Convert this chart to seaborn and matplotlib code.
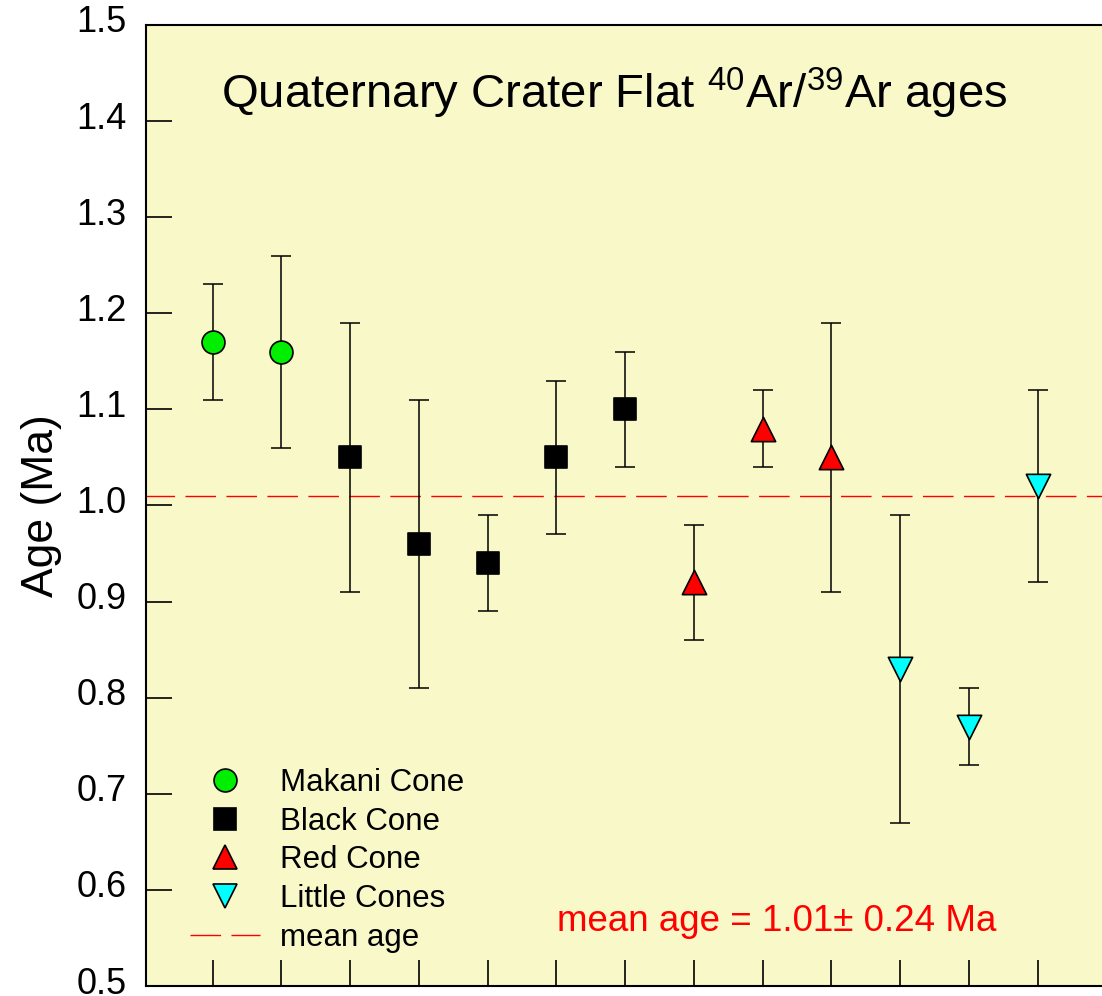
import matplotlib
matplotlib.use("Agg")
import matplotlib.pyplot as plt
import matplotlib.transforms as mtransforms
import seaborn as sns
import pandas as pd
import numpy as np

# Data
makani_x = [1, 2]
makani_age = [1.17, 1.16]
makani_err = [0.06, 0.10]

black_x = [3, 4, 5, 6, 7]
black_age = [1.05, 0.96, 0.94, 1.05, 1.10]
black_err = [0.14, 0.15, 0.05, 0.08, 0.06]

red_x = [8, 9, 10]
red_age = [0.92, 1.08, 1.05]
red_err = [0.06, 0.04, 0.14]

little_x = [11, 12, 13]
little_age = [0.83, 0.77, 1.02]
little_err = [0.16, 0.04, 0.10]

mean_age = 1.01
mean_err = 0.24
y_ticks = [0.5, 0.6, 0.7, 0.8, 0.9, 1.0, 1.1, 1.2, 1.3, 1.4, 1.5]

sns.set_theme(style="white")
plt.rcParams['font.family'] = ['Liberation Sans', 'DejaVu Sans']
plt.rcParams['text.color'] = 'black'
plt.rcParams['axes.labelcolor'] = 'black'
plt.rcParams['xtick.color'] = 'black'
plt.rcParams['ytick.color'] = 'black'
plt.rcParams['mathtext.fontset'] = 'custom'
plt.rcParams['mathtext.rm'] = 'Liberation Sans'

fig = plt.figure(figsize=(11.02, 9.96), dpi=100)
ax = fig.add_axes([146/1102, 10/996, (1102-146)/1102, (986-25)/996])
bg = "#F8F8C8"
ax.set_facecolor(bg)

groups = [
    ("Makani Cone", makani_x, makani_age, makani_err, "o", "#00EE00", 16.5),
    ("Black Cone", black_x, black_age, black_err, "s", "black", 15.5),
    ("Red Cone", red_x, red_age, red_err, "^", "#FF0000", 17.5),
    ("Little Cones", little_x, little_age, little_err, "v", "#00FFFF", 17.5),
]

frames = []
for name, xs, ys, es, m, c, s in groups:
    frames.append(pd.DataFrame({"x": xs, "age": ys, "err": es, "group": name}))
df = pd.concat(frames, ignore_index=True)

handles = []
for name, xs, ys, es, m, c, s in groups:
    sub = df[df.group == name]
    ax.errorbar(sub.x, sub.age, yerr=sub.err, fmt="none", ecolor="black",
                elinewidth=1.1, capsize=7.5, capthick=1.1, zorder=2)
    sns.scatterplot(data=sub, x="x", y="age", marker=m, color=c,
                    edgecolor="black", linewidth=1.2, s=s**2, ax=ax, zorder=3,
                    legend=False)
    h, = ax.plot([], [], linestyle="none", marker=m, markersize=s,
                 markerfacecolor=c, markeredgecolor="black", markeredgewidth=1.2)
    handles.append((h, name))

ml, = ax.plot([0, 15], [mean_age, mean_age], color="#FF0000", lw=1,
              dashes=(22, 7.5), zorder=1)
handles.append((ml, "mean age"))

ax.set_xlim(0.03, 0.03 + (1102 - 146) / 68.75)
ax.set_ylim(0.5, 1.5)
ax.set_yticks(y_ticks)
ax.set_yticklabels([f"{v:.1f}" for v in y_ticks])
ax.set_xticks(range(1, 14))
ax.set_xticklabels([])
ax.tick_params(axis="both", direction="in", length=19, width=1.2,
               color="black", labelcolor="black", labelsize=26, pad=14,
               bottom=True, left=True)
ax.tick_params(axis="x", pad=0)
offset = mtransforms.ScaledTranslation(0, 6/100, fig.dpi_scale_trans)
for lbl in ax.get_yticklabels():
    lbl.set_transform(lbl.get_transform() + offset)
for sp in ["left", "bottom", "top"]:
    ax.spines[sp].set_color("black")
    ax.spines[sp].set_linewidth(1.5)
ax.spines["right"].set_visible(False)

ax.set_xlabel("")
ax.set_ylabel("Age (Ma)", fontsize=32, color="black")
ax.yaxis.set_label_coords(-0.088, 0.5)

ax.text(0.49, 0.929, r"Quaternary Crater Flat $^{40}$Ar/$^{39}$Ar ages",
        transform=ax.transAxes, ha="center", va="center", fontsize=34,
        color="black")

ax.text(0.43, 0.067, "mean age = 1.01\u00b1 0.24 Ma", transform=ax.transAxes,
        ha="left", va="center", fontsize=26.5, color="#FF0000")

leg = ax.legend([h for h, _ in handles], [n for _, n in handles],
                loc="lower left", bbox_to_anchor=(0.046, 0.0345), frameon=False,
                fontsize=22.5, handlelength=2.25, handletextpad=0.63,
                labelspacing=0.28, borderpad=0, borderaxespad=0)
for t in leg.get_texts():
    t.set_color("black")

fig.savefig("out.png", dpi=100, facecolor="white")
